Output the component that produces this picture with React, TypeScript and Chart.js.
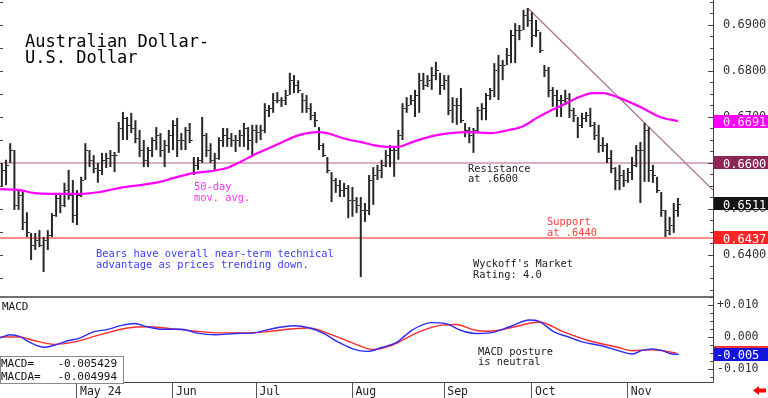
import React, { useEffect, useRef } from 'react';
import { Chart, registerables } from 'chart.js';

Chart.register(...registerables);

const MONO = "'DejaVu Sans Mono', monospace";

// Trading-day index: 0 = May 1 2024; first bar = Apr 5 2024
const FIRST_INDEX = -18;
const X_MIN = -18.45;
const X_MAX = 152.4;

const highs = [
  0.6600, 0.6607, 0.6643, 0.6628, 0.6541, 0.6541, 0.6493, 0.6448, 0.6448, 0.6454,
  0.6439, 0.6454, 0.6491, 0.6535, 0.6535, 0.6557, 0.6585, 0.6563, 0.6541, 0.6570,
  0.6643, 0.6628, 0.6617, 0.6600, 0.6622, 0.6622, 0.6628, 0.6624, 0.6689, 0.6711,
  0.6700, 0.6709, 0.6693, 0.6672, 0.6650, 0.6635, 0.6656, 0.6678, 0.6665, 0.6650,
  0.6672, 0.6693, 0.6698, 0.6665, 0.6678, 0.6687, 0.6613, 0.6613, 0.6700, 0.6665,
  0.6643, 0.6622, 0.6656, 0.6676, 0.6676, 0.6665, 0.6661, 0.6672, 0.6687, 0.6678,
  0.6683, 0.6683, 0.6683, 0.6730, 0.6726, 0.6752, 0.6754, 0.6743, 0.6759, 0.6796,
  0.6791, 0.6780, 0.6752, 0.6748, 0.6730, 0.6711, 0.6678, 0.6643, 0.6613, 0.6580,
  0.6567, 0.6563, 0.6557, 0.6552, 0.6548, 0.6526, 0.6526, 0.6513, 0.6574, 0.6591,
  0.6596, 0.6607, 0.6628, 0.6639, 0.6635, 0.6672, 0.6730, 0.6743, 0.6748, 0.6759,
  0.6796, 0.6796, 0.6791, 0.6809, 0.6820, 0.6796, 0.6791, 0.6791, 0.6743, 0.6741,
  0.6763, 0.6687, 0.6678, 0.6676, 0.6722, 0.6730, 0.6752, 0.6763, 0.6817, 0.6835,
  0.6824, 0.6850, 0.6889, 0.6904, 0.6900, 0.6933, 0.6937, 0.6928, 0.6911, 0.6885,
  0.6813, 0.6809, 0.6765, 0.6759, 0.6748, 0.6759, 0.6752, 0.6720, 0.6700, 0.6709,
  0.6711, 0.6720, 0.6689, 0.6683, 0.6656, 0.6643, 0.6628, 0.6591, 0.6596, 0.6585,
  0.6589, 0.6613, 0.6639, 0.6646, 0.6687, 0.6678, 0.6596, 0.6570, 0.6537, 0.6498,
  0.6483, 0.6513, 0.6524,
];

const lows = [
  0.6548, 0.6552, 0.6600, 0.6498, 0.6498, 0.6454, 0.6439, 0.6389, 0.6411, 0.6417,
  0.6363, 0.6411, 0.6439, 0.6483, 0.6491, 0.6504, 0.6520, 0.6470, 0.6465, 0.6526,
  0.6563, 0.6591, 0.6578, 0.6557, 0.6574, 0.6589, 0.6591, 0.6580, 0.6622, 0.6650,
  0.6650, 0.6665, 0.6643, 0.6613, 0.6591, 0.6591, 0.6613, 0.6628, 0.6613, 0.6591,
  0.6622, 0.6628, 0.6613, 0.6628, 0.6628, 0.6643, 0.6574, 0.6585, 0.6600, 0.6613,
  0.6600, 0.6585, 0.6607, 0.6635, 0.6635, 0.6635, 0.6624, 0.6635, 0.6635, 0.6628,
  0.6613, 0.6643, 0.6650, 0.6665, 0.6700, 0.6709, 0.6730, 0.6722, 0.6726, 0.6748,
  0.6752, 0.6752, 0.6709, 0.6709, 0.6693, 0.6678, 0.6628, 0.6613, 0.6578, 0.6515,
  0.6535, 0.6526, 0.6526, 0.6480, 0.6483, 0.6491, 0.6352, 0.6472, 0.6487, 0.6509,
  0.6563, 0.6567, 0.6591, 0.6591, 0.6570, 0.6607, 0.6650, 0.6709, 0.6726, 0.6700,
  0.6709, 0.6759, 0.6765, 0.6759, 0.6780, 0.6748, 0.6759, 0.6704, 0.6687, 0.6683,
  0.6687, 0.6656, 0.6643, 0.6622, 0.6667, 0.6693, 0.6693, 0.6737, 0.6743, 0.6737,
  0.6780, 0.6813, 0.6817, 0.6817, 0.6867, 0.6889, 0.6896, 0.6852, 0.6874, 0.6839,
  0.6787, 0.6743, 0.6722, 0.6700, 0.6700, 0.6726, 0.6698, 0.6689, 0.6654, 0.6676,
  0.6689, 0.6678, 0.6650, 0.6622, 0.6624, 0.6600, 0.6578, 0.6541, 0.6541, 0.6548,
  0.6557, 0.6563, 0.6591, 0.6513, 0.6559, 0.6559, 0.6557, 0.6535, 0.6483, 0.6439,
  0.6443, 0.6448, 0.6483,
];

const closes = [
  0.6585, 0.6596, 0.6628, 0.6509, 0.6530, 0.6472, 0.6450, 0.6422, 0.6433, 0.6422,
  0.6433, 0.6443, 0.6487, 0.6524, 0.6509, 0.6541, 0.6530, 0.6487, 0.6530, 0.6563,
  0.6628, 0.6607, 0.6589, 0.6585, 0.6607, 0.6611, 0.6617, 0.6617, 0.6676, 0.6698,
  0.6683, 0.6676, 0.6654, 0.6628, 0.6607, 0.6628, 0.6650, 0.6661, 0.6628, 0.6639,
  0.6661, 0.6683, 0.6650, 0.6650, 0.6672, 0.6650, 0.6596, 0.6607, 0.6661, 0.6628,
  0.6607, 0.6611, 0.6650, 0.6661, 0.6654, 0.6650, 0.6650, 0.6661, 0.6676, 0.6650,
  0.6672, 0.6667, 0.6672, 0.6715, 0.6720, 0.6737, 0.6737, 0.6737, 0.6748, 0.6780,
  0.6770, 0.6759, 0.6737, 0.6720, 0.6704, 0.6693, 0.6639, 0.6617, 0.6585, 0.6563,
  0.6552, 0.6541, 0.6546, 0.6520, 0.6520, 0.6509, 0.6498, 0.6498, 0.6563, 0.6574,
  0.6585, 0.6596, 0.6617, 0.6628, 0.6628, 0.6661, 0.6720, 0.6726, 0.6737, 0.6748,
  0.6780, 0.6770, 0.6780, 0.6791, 0.6802, 0.6770, 0.6780, 0.6715, 0.6726, 0.6726,
  0.6693, 0.6672, 0.6661, 0.6672, 0.6715, 0.6720, 0.6748, 0.6759, 0.6802, 0.6813,
  0.6813, 0.6835, 0.6878, 0.6889, 0.6889, 0.6922, 0.6911, 0.6878, 0.6889, 0.6846,
  0.6802, 0.6759, 0.6748, 0.6737, 0.6737, 0.6741, 0.6715, 0.6704, 0.6683, 0.6698,
  0.6704, 0.6683, 0.6661, 0.6639, 0.6639, 0.6611, 0.6589, 0.6563, 0.6574, 0.6563,
  0.6580, 0.6596, 0.6628, 0.6628, 0.6672, 0.6585, 0.6574, 0.6541, 0.6498, 0.6454,
  0.6465, 0.6498, 0.6511,
];

// 50-day moving average (read points)
const maIdx = [-18.4, -13.7, -10.5, -5.7, 0.7, 5.5, 10.3, 15.1, 19.9, 23.0, 27.8, 32.6, 35.9, 39.1, 42.2, 46.2, 50.3, 53.4, 57.5, 59.9, 63.0, 65.4, 67.8, 70.9, 74.3, 76.7, 80.5, 85.3, 89.4, 94.2, 98.9, 103.7, 106.9, 110.2, 113.3, 116.4, 118.8, 123.6, 126.0, 130.1, 134.9, 139.7, 144];
const maVal = [0.6543, 0.6541, 0.6535, 0.6533, 0.6533, 0.6537, 0.6546, 0.6552, 0.6559, 0.6567, 0.6578, 0.6583, 0.6589, 0.6602, 0.6617, 0.6633, 0.6650, 0.6661, 0.6667, 0.6665, 0.6656, 0.6650, 0.6646, 0.6639, 0.6635, 0.6635, 0.6646, 0.6659, 0.6665, 0.6667, 0.6665, 0.6672, 0.6680, 0.6698, 0.6713, 0.6726, 0.6737, 0.6752, 0.6752, 0.6741, 0.6722, 0.6700, 0.6691];

// MACD (blue) and MACDA signal (red)
const macdIdx = [-18.4, -16.1, -13.8, -11.4, -7.9, -5.5, -2.0, 0.3, 3.9, 7.4, 10.9, 13.8, 16.8, 20.3, 25.0, 28.5, 33.2, 37.9, 42.6, 46.1, 52.0, 55.5, 59.1, 62.6, 66.1, 69.6, 73.2, 76.7, 80.2, 84.9, 88.4, 91.9, 95.5, 99.0, 103.7, 108.4, 110.7, 114.3, 117.8, 121.3, 126.0, 129.5, 133.1, 135.4, 137.8, 140.1, 142.5, 144.2];
const macdVal = [-0.0003, 0.0007, 0.0002, -0.0016, -0.0032, -0.0026, -0.0011, -0.0005, 0.0016, 0.0024, 0.0037, 0.0042, 0.0032, 0.0024, 0.0024, 0.0013, 0.0007, 0.0011, 0.0013, 0.0024, 0.0035, 0.0029, 0.0011, -0.0016, -0.0037, -0.0045, -0.0032, -0.0016, 0.0021, 0.0045, 0.0042, 0.0021, 0.0011, 0.0013, 0.0032, 0.0053, 0.0049, 0.0016, 0.0000, -0.0016, -0.0028, -0.0042, -0.0053, -0.0042, -0.0037, -0.0042, -0.0053, -0.0054];
const signalIdx = [-18.4, -13.8, -10.3, -5.5, -0.9, 5.0, 12.1, 16.8, 22.7, 28.5, 34.4, 40.3, 45.0, 52.0, 55.5, 61.4, 66.1, 70.8, 75.5, 81.4, 87.3, 90.8, 95.5, 99.0, 104.9, 110.7, 116.6, 122.5, 129.5, 133.1, 137.8, 143.6];
const signalVal = [0.0000, 0.0000, -0.0011, -0.0023, -0.0016, 0.0005, 0.0028, 0.0032, 0.0026, 0.0018, 0.0013, 0.0013, 0.0016, 0.0026, 0.0028, 0.0005, -0.0019, -0.0039, -0.0026, 0.0013, 0.0037, 0.0039, 0.0021, 0.0018, 0.0032, 0.0047, 0.0016, -0.0011, -0.0032, -0.0043, -0.0040, -0.0050];

// Downtrend line from the September peak
const trendIdx = [108, 152.4];
const trendVal = [0.6937, 0.6541];

const monthIdx = [0, 23, 43, 66, 88, 109, 132];
const monthLabels = ['May 24', 'Jun', 'Jul', 'Aug', 'Sep', 'Oct', 'Nov'];

const priceMajorTicks = [0.64, 0.65, 0.66, 0.67, 0.68, 0.69];
const macdMajorTicks = [-0.01, 0, 0.01];

const RESISTANCE = 0.66;
const SUPPORT = 0.6437;
const LAST_MA = 0.6691;
const LAST_CLOSE = 0.6511;
const MACD_LAST = -0.005429;
const MACDA_LAST = -0.004994;

const PRICE_MIN = 0.63087;
const PRICE_MAX = 0.69543;
const MACD_MIN = -0.01406;
const MACD_MAX = 0.0125;

function minorTicks(lo: number, hi: number, step: number) {
  const out: number[] = [];
  for (let n = Math.ceil(lo / step); n * step <= hi; n++) out.push(+(n * step).toFixed(6));
  return out;
}
const isMajor = (v: number, majors: number[]) => majors.some((m) => Math.abs(m - v) < 1e-7);

const overlayPlugin = {
  id: 'overlay',
  afterDatasetsDraw(chart: any) {
    const ctx = chart.ctx;
    const ca = chart.chartArea;
    const ys = chart.scales.y;
    const di = chart.data.datasets.findIndex((d: any) => d.label === 'bars');
    const meta = chart.getDatasetMeta(di);
    ctx.save();
    ctx.beginPath();
    ctx.rect(ca.left, ca.top, ca.right - ca.left, ca.bottom - ca.top);
    ctx.clip();
    ctx.strokeStyle = '#222';
    ctx.lineWidth = 1;
    meta.data.forEach((el: any, k: number) => {
      const py = Math.round(ys.getPixelForValue(closes[k])) + 0.5;
      ctx.beginPath();
      ctx.moveTo(el.x + 1, py);
      ctx.lineTo(el.x + 3, py);
      ctx.stroke();
    });
    ctx.restore();
  },
  afterDraw(chart: any) {
    const ctx = chart.ctx;
    const ca = chart.chartArea;
    const ys = chart.scales.y;
    const ms = chart.scales.m;
    const xs = chart.scales.x;
    ctx.save();

    // pane separator
    ctx.fillStyle = '#707070';
    ctx.fillRect(ca.left, Math.round(ys.bottom) - 1, ca.right - ca.left, 2);

    // inward tick marks on right axis
    ctx.strokeStyle = '#444';
    ctx.lineWidth = 1;
    const drawTicks = (scale: any, majors: number[]) => {
      scale.ticks.forEach((t: any) => {
        const py = Math.round(scale.getPixelForValue(t.value)) + 0.5;
        const len = isMajor(t.value, majors) ? 5 : 3;
        ctx.beginPath();
        ctx.moveTo(ca.right - len, py);
        ctx.lineTo(ca.right, py);
        ctx.stroke();
      });
    };
    drawTicks(ys, priceMajorTicks);
    drawTicks(ms, macdMajorTicks);

    // small ticks on left edge (price pane)
    ys.ticks.forEach((t: any) => {
      const n = Math.round(t.value * 10000);
      if (n % 50 !== 0) return;
      const py = Math.round(ys.getPixelForValue(t.value)) + 0.5;
      ctx.beginPath();
      ctx.moveTo(ca.left, py);
      ctx.lineTo(ca.left + 3, py);
      ctx.stroke();
    });

    const text = (s: string, x: number, y: number, color: string, size: number, align: CanvasTextAlign = 'left') => {
      ctx.fillStyle = color;
      ctx.font = `${size}px ${MONO}`;
      ctx.textAlign = align;
      ctx.textBaseline = 'alphabetic';
      ctx.fillText(s, x, y);
    };

    // title
    text('Australian Dollar-', 25, 47, '#000', 17);
    text('U.S. Dollar', 25, 63, '#000', 17);

    // annotations
    text('50-day', 194, 190, '#ff33ff', 10.4);
    text('mov. avg.', 194, 201, '#ff33ff', 10.4);
    text('Bears have overall near-term technical', 96, 257, '#3b3bff', 10.4);
    text('advantage as prices trending down.', 96, 268, '#3b3bff', 10.4);
    text('Resistance', 468, 172, '#222', 10.4);
    text('at .6600', 468, 182, '#222', 10.4);
    text('Support', 547, 225, '#ff3b3b', 10.4);
    text('at .6440', 547, 235.5, '#ff3b3b', 10.4);
    text("Wyckoff's Market", 473, 267, '#222', 10.4);
    text('Rating: 4.0', 473, 278, '#222', 10.4);
    text('MACD', 2, 310, '#111', 11);
    text('MACD posture', 478, 354.5, '#222', 10.4);
    text('is neutral', 478, 364.5, '#222', 10.4);

    // value boxes on right axis
    const box = (scale: any, v: number, bg: string, fg: string, label: string, tx: number) => {
      const py = scale.getPixelForValue(v);
      ctx.fillStyle = bg;
      ctx.fillRect(ca.right + 1, Math.round(py - 6.5), 768 - ca.right - 1, 13);
      text(label, ca.right + tx, Math.round(py) + 4.5, fg, 12);
    };
    box(ys, LAST_MA, '#ff00ff', '#ffe8ff', LAST_MA.toFixed(4), 10);
    box(ys, RESISTANCE, '#8e2457', '#ffffff', RESISTANCE.toFixed(4), 10);
    box(ys, LAST_CLOSE, '#141414', '#ffffff', LAST_CLOSE.toFixed(4), 10);
    box(ys, SUPPORT, '#ff2424', '#ffffff', SUPPORT.toFixed(4), 10);
    box(ms, MACDA_LAST, '#ff3030', '#ffffff', MACDA_LAST.toFixed(3), 3);
    box(ms, MACD_LAST, '#1414e0', '#ffffff', MACD_LAST.toFixed(3), 3);

    // month labels
    monthIdx.forEach((m, k) => {
      const px = xs.getPixelForValue(m);
      text(monthLabels[k], px + 3, 395, '#222', 11.5);
    });

    // MACD readout box
    ctx.fillStyle = '#fff';
    ctx.fillRect(0, 356, 124, 27);
    ctx.strokeStyle = '#8a8a8a';
    ctx.strokeRect(0.5, 356.5, 123, 27);
    text('MACD=', 1, 367, '#111', 11);
    text(MACD_LAST.toFixed(6), 117, 367, '#111', 11, 'right');
    text('MACDA=', 1, 380, '#111', 11);
    text(MACDA_LAST.toFixed(6), 117, 380, '#111', 11, 'right');

    // red arrow bottom-right
    ctx.fillStyle = '#ff0000';
    ctx.beginPath();
    ctx.moveTo(753, 390.5);
    ctx.lineTo(759, 386);
    ctx.lineTo(759, 395);
    ctx.closePath();
    ctx.fill();
    ctx.fillRect(758, 388.5, 8, 4);

    ctx.restore();
  },
};

export default function App() {
  const ref = useRef<HTMLCanvasElement>(null);

  useEffect(() => {
    const hLine = (v: number) => [{ x: X_MIN, y: v }, { x: X_MAX, y: v }];
    const chart = new Chart(ref.current as HTMLCanvasElement, {
      type: 'line',
      data: {
        datasets: [
          {
            label: 'ma',
            type: 'line',
            data: maIdx.map((x, k) => ({ x, y: maVal[k] })),
            borderColor: '#ff00ff',
            borderWidth: 2.2,
            pointRadius: 0,
            cubicInterpolationMode: 'monotone',
            yAxisID: 'y',
            order: 0,
          },
          {
            label: 'bars',
            type: 'bar',
            data: highs.map((h, k) => ({ x: FIRST_INDEX + k, y: [lows[k], h] })),
            backgroundColor: '#262626',
            barThickness: 2,
            inflateAmount: 0,
            borderWidth: 0,
            yAxisID: 'y',
            order: 1,
          },
          {
            label: 'macd',
            type: 'line',
            data: macdIdx.map((x, k) => ({ x, y: macdVal[k] })),
            borderColor: '#2b2bff',
            borderWidth: 1.4,
            pointRadius: 0,
            cubicInterpolationMode: 'monotone',
            yAxisID: 'm',
            order: 2,
          },
          {
            label: 'macda',
            type: 'line',
            data: signalIdx.map((x, k) => ({ x, y: signalVal[k] })),
            borderColor: '#ff2b2b',
            borderWidth: 1.4,
            pointRadius: 0,
            cubicInterpolationMode: 'monotone',
            yAxisID: 'm',
            order: 3,
          },
          {
            label: 'trend',
            type: 'line',
            data: trendIdx.map((x, k) => ({ x, y: trendVal[k] })),
            borderColor: '#a8708a',
            borderWidth: 1.2,
            pointRadius: 0,
            yAxisID: 'y',
            order: 4,
          },
          {
            label: 'resistance',
            type: 'line',
            data: hLine(RESISTANCE),
            borderColor: '#cc95b6',
            borderWidth: 1.6,
            pointRadius: 0,
            yAxisID: 'y',
            order: 5,
          },
          {
            label: 'support',
            type: 'line',
            data: hLine(SUPPORT),
            borderColor: '#ff6464',
            borderWidth: 1.4,
            pointRadius: 0,
            yAxisID: 'y',
            order: 6,
          },
        ] as any,
      },
      options: {
        responsive: false,
        animation: false,
        devicePixelRatio: 1,
        events: [],
        layout: { padding: 0 },
        plugins: {
          legend: { display: false },
          tooltip: { enabled: false },
          title: { display: false },
        },
        scales: {
          x: {
            type: 'linear',
            position: 'bottom',
            min: X_MIN,
            max: X_MAX,
            offset: false,
            grid: { offset: false, drawOnChartArea: false, drawTicks: true, tickLength: 16, color: '#555' },
            border: { display: true, color: '#444', width: 1 },
            ticks: { display: false, autoSkip: false },
            afterBuildTicks: (s: any) => {
              s.ticks = monthIdx.map((v) => ({ value: v }));
            },
            afterFit: (s: any) => {
              s.height = 16;
              s.paddingLeft = 0;
              s.paddingRight = 0;
            },
          },
          y: {
            type: 'linear',
            position: 'right',
            stack: 'panes',
            stackWeight: 297,
            min: PRICE_MIN,
            max: PRICE_MAX,
            grid: { drawOnChartArea: false, drawTicks: false },
            border: { display: true, color: '#444', width: 1 },
            ticks: {
              autoSkip: false,
              padding: 10,
              color: '#333',
              font: { family: MONO, size: 12 },
              callback: (v: any) => (isMajor(Number(v), priceMajorTicks) ? Number(v).toFixed(4) : ''),
            },
            afterBuildTicks: (s: any) => {
              s.ticks = minorTicks(PRICE_MIN, PRICE_MAX, 0.0025).map((v) => ({ value: v }));
            },
            afterFit: (s: any) => {
              s.width = 55;
              s.paddingTop = 0;
              s.paddingBottom = 0;
            },
          },
          m: {
            type: 'linear',
            position: 'right',
            stack: 'panes',
            stackWeight: 85,
            min: MACD_MIN,
            max: MACD_MAX,
            grid: { drawOnChartArea: false, drawTicks: false },
            border: { display: true, color: '#444', width: 1 },
            ticks: {
              autoSkip: false,
              padding: 4,
              color: '#333',
              font: { family: MONO, size: 11.5 },
              callback: (v: any) => {
                const n = Number(v);
                if (!isMajor(n, macdMajorTicks)) return '';
                if (Math.abs(n) < 1e-9) return ' 0.000';
                return (n > 0 ? '+' : '') + n.toFixed(3);
              },
            },
            afterBuildTicks: (s: any) => {
              s.ticks = minorTicks(MACD_MIN, MACD_MAX, 0.0025).map((v) => ({ value: v }));
            },
            afterFit: (s: any) => {
              s.width = 55;
              s.paddingTop = 0;
              s.paddingBottom = 0;
            },
          },
        },
      } as any,
      plugins: [overlayPlugin],
    });
    return () => chart.destroy();
  }, []);

  return (
    <div style={{ position: 'fixed', left: 0, top: 0, width: 768, height: 398, background: '#fff' }}>
      <canvas ref={ref} width={768} height={398} style={{ display: 'block', width: 768, height: 398 }} />
    </div>
  );
}
